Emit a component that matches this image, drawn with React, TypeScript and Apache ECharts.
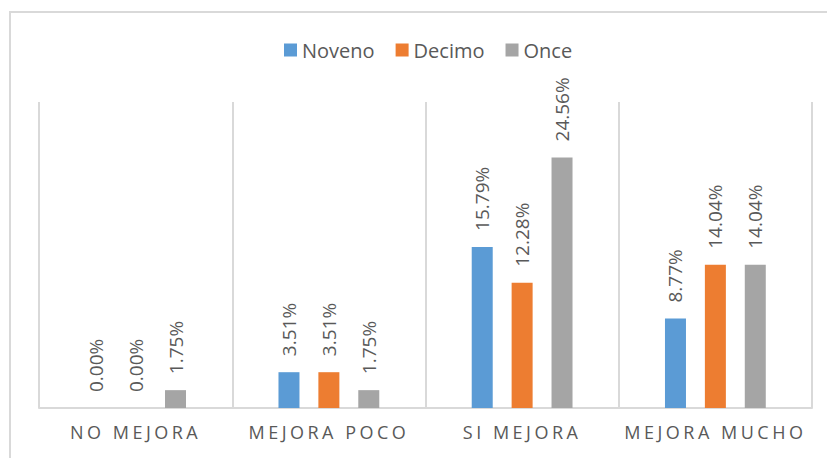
import React, { useEffect, useRef } from "react";
import * as echarts from "echarts";

const categories = ["NO MEJORA", "MEJORA POCO", "SI MEJORA", "MEJORA MUCHO"];
const seriesNames = ["Noveno", "Decimo", "Once"];
const noveno = [0.0, 3.51, 15.79, 8.77];
const decimo = [0.0, 3.51, 12.28, 14.04];
const once = [1.75, 1.75, 24.56, 14.04];
const colors = ["#5B9BD5", "#ED7D31", "#A5A5A5"];

export default function App() {
  const ref = useRef<HTMLDivElement>(null);
  useEffect(() => {
    if (!ref.current) return;
    const chart = echarts.init(ref.current, null, { renderer: "svg" });
    const values = [noveno, decimo, once];
    const labelStyle = {
      show: true,
      position: "top",
      rotate: 90,
      align: "left",
      verticalAlign: "middle",
      distance: 16,
      color: "#595959",
      fontSize: 19,
      fontFamily: "Open Sans",
      formatter: (p: any) => Number(p.value).toFixed(2) + "%",
    };
    chart.setOption({
      animation: false,
      color: colors,
      graphic: [
        {
          type: "rect",
          shape: { x: 10, y: 12, width: 900, height: 500 },
          style: { fill: "none", stroke: "#d9d9d9", lineWidth: 2 },
          silent: true,
        },
      ],
      legend: {
        data: seriesNames,
        left: 279,
        top: 35,
        itemWidth: 13,
        itemHeight: 13,
        itemGap: 21,
        icon: "rect",
        textStyle: { color: "#595959", fontSize: 20, fontFamily: "Open Sans" },
      },
      grid: { left: 39, right: 15, top: 102, bottom: 50 },
      xAxis: {
        type: "category",
        data: categories,
        axisLine: { show: true, lineStyle: { color: "#d9d9d9", width: 2 } },
        axisTick: { show: false },
        splitLine: { show: true, lineStyle: { color: "#d9d9d9", width: 2 } },
        axisLabel: {
          color: "#595959",
          fontSize: 18,
          fontFamily: "'Open Sans', xlbl",
          margin: 15,
          interval: 0,
        },
      },
      yAxis: {
        type: "value",
        min: 0,
        max: 30,
        show: false,
        splitLine: { show: false },
      },
      series: seriesNames.map((name, i) => ({
        name,
        type: "bar",
        data: values[i],
        barWidth: 21,
        barGap: "90%",
        label: labelStyle,
      })),
    });
    return () => chart.dispose();
  }, []);
  return (
    <>
      <style>{`text[style*="xlbl"], text[font-family*="xlbl"] { letter-spacing: 3.5px; }`}</style>
      <div
        ref={ref}
        style={{ position: "fixed", left: 0, top: 0, width: 827, height: 458, background: "#fff" }}
      />
    </>
  );
}
